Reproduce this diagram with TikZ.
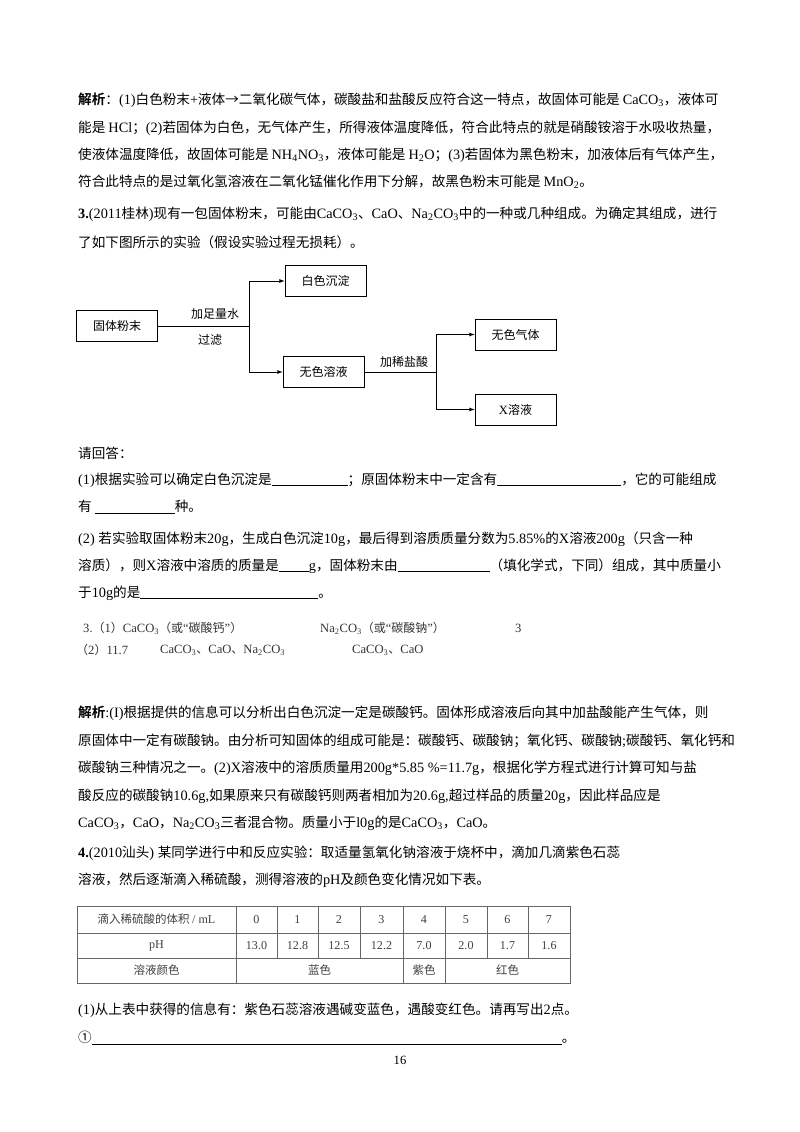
\documentclass[tikz,border=0pt]{standalone}
\usepackage{fontspec}
\setmainfont{Liberation Serif}[Scale=1.05]
\newfontfamily\cjkfam{Noto Sans CJK SC}[BoldFont={Noto Sans CJK SC Bold}]
\makeatletter
\XeTeXinterchartokenstate=1
\newXeTeXintercharclass\cjkclass
\count@="4E00
\loop\ifnum\count@<"A000 \XeTeXcharclass\count@=\cjkclass \advance\count@ by 1 \repeat
\count@="3000
\loop\ifnum\count@<"3040 \XeTeXcharclass\count@=\cjkclass \advance\count@ by 1 \repeat
\count@="FF00
\loop\ifnum\count@<"FFF0 \XeTeXcharclass\count@=\cjkclass \advance\count@ by 1 \repeat
\XeTeXcharclass"2192=\cjkclass
\XeTeXcharclass"2460=\cjkclass
\makeatother
\XeTeXinterchartoks 0 \cjkclass = {\cjkfam}
\XeTeXinterchartoks 4095 \cjkclass = {\cjkfam}
\XeTeXinterchartoks \cjkclass 0 = {\rmfamily}
\XeTeXinterchartoks 4095 0 = {\rmfamily}
\newcommand{\sbs}[1]{\textsubscript{#1}}
\newcommand{\blank}[1]{\underline{\hspace{#1pt}}}
\begin{document}
\begin{tikzpicture}[x=1pt,y=-1pt,
  txt/.style={anchor=west,inner sep=0pt,font=\fontsize{13.6}{15}\selectfont},
  ans/.style={anchor=west,inner sep=0pt,font=\fontsize{12}{14}\selectfont,text=black!80},
  boxnode/.style={draw,thick,minimum width=81pt,minimum height=31pt,inner sep=0pt,font=\fontsize{12}{14}\selectfont},
  lbl/.style={inner sep=0pt,font=\fontsize{12}{14}\selectfont},
  conn/.style={thick},
  arr/.style={thick,-latex},
  tcell/.style={inner sep=0pt,font=\fontsize{11.5}{13}\selectfont,text=black!75},
  tline/.style={draw=black!60}]
\useasboundingbox (0,0) rectangle (800,1132);
\fill[white] (0,0) rectangle (800,1132);
% paragraph 1
\node[txt] (l1) at (78,100) {\textbf{解析}：(1)白色粉末+液体→二氧化碳气体，碳酸盐和盐酸反应符合这一特点，故固体可能是 CaCO\sbs{3}，液体可};
\node[txt] (l2) at (78,128) {能是 HCl；(2)若固体为白色，无气体产生，所得液体温度降低，符合此特点的就是硝酸铵溶于水吸收热量，};
\node[txt] (l3) at (78,155) {使液体温度降低，故固体可能是 NH\sbs{4}NO\sbs{3}，液体可能是 H\sbs{2}O；(3)若固体为黑色粉末，加液体后有气体产生，};
\node[txt] (l4) at (78,182) {符合此特点的是过氧化氢溶液在二氧化锰催化作用下分解，故黑色粉末可能是 MnO\sbs{2}。};
\node[txt] (l5) at (78,214) {\textbf{3.}(2011桂林)现有一包固体粉末，可能由CaCO\sbs{3}、CaO、Na\sbs{2}CO\sbs{3}中的一种或几种组成。为确定其组成，进行};
\node[txt] (l6) at (78,242) {了如下图所示的实验（假设实验过程无损耗）。};
% diagram
\node[boxnode] (a) at (117,326) {固体粉末};
\node[boxnode] (b) at (325.5,281) {白色沉淀};
\node[boxnode] (c) at (323.5,372) {无色溶液};
\node[boxnode] (d) at (515.5,334.5) {无色气体};
\node[boxnode] (e) at (515.5,409.5) {X溶液};
\coordinate (j1) at (249,326);
\coordinate (j2) at (436,372);
\draw[conn] (a.east) -- (j1);
\draw[arr] (j1) |- (b.west);
\draw[arr] (j1) |- (c.west);
\draw[conn] (c.east) -- (j2);
\draw[arr] (j2) |- (d.west);
\draw[arr] (j2) |- (e.west);
\node[lbl] (la) at (215,314) {加足量水};
\node[lbl] (lb) at (210,340) {过滤};
\node[lbl] (lc) at (404,362) {加稀盐酸};
% questions
\node[txt] (q0) at (78,453) {请回答：};
\node[txt] (q1) at (78,480) {(1)根据实验可以确定白色沉淀是\blank{76}；原固体粉末中一定含有\blank{124}，它的可能组成};
\node[txt] (q2) at (78,507) {有 \blank{80}种。};
\node[txt] (q3) at (78,539) {(2) 若实验取固体粉末20g，生成白色沉淀10g，最后得到溶质质量分数为5.85\%的X溶液200g（只含一种};
\node[txt] (q4) at (78,566) {溶质），则X溶液中溶质的质量是\blank{30}g，固体粉末由\blank{92}（填化学式，下同）组成，其中质量小};
\node[txt] (q5) at (78,593) {于10g的是\blank{178}。};
% answers
\node[ans] (a1) at (83,628) {3.（1）CaCO\sbs{3}（或“碳酸钙”）};
\node[ans] (a2) at (320,628) {Na\sbs{2}CO\sbs{3}（或“碳酸钠”）};
\node[ans] (a3) at (515,628) {3};
\node[ans] (a4) at (76,650) {（2）11.7};
\node[ans] (a5) at (160,650) {CaCO\sbs{3}、CaO、Na\sbs{2}CO\sbs{3}};
\node[ans] (a6) at (352,650) {CaCO\sbs{3}、CaO};
% analysis
\node[txt] (p1) at (78,713) {\textbf{解析}:(I)根据提供的信息可以分析出白色沉淀一定是碳酸钙。固体形成溶液后向其中加盐酸能产生气体，则};
\node[txt] (p2) at (78,741) {原固体中一定有碳酸钠。由分析可知固体的组成可能是：碳酸钙、碳酸钠；氧化钙、碳酸钠;碳酸钙、氧化钙和};
\node[txt] (p3) at (78,768) {碳酸钠三种情况之一。(2)X溶液中的溶质质量用200g*5.85 \%=11.7g，根据化学方程式进行计算可知与盐};
\node[txt] (p4) at (78,796) {酸反应的碳酸钠10.6g,如果原来只有碳酸钙则两者相加为20.6g,超过样品的质量20g，因此样品应是};
\node[txt] (p5) at (78,823) {CaCO\sbs{3}，CaO，Na\sbs{2}CO\sbs{3}三者混合物。质量小于l0g的是CaCO\sbs{3}，CaO。};
\node[txt] (r1) at (78,853) {\textbf{4.}(2010汕头) 某同学进行中和反应实验：取适量氢氧化钠溶液于烧杯中，滴加几滴紫色石蕊};
\node[txt] (r2) at (78,880) {溶液，然后逐渐滴入稀硫酸，测得溶液的pH及颜色变化情况如下表。};
% table
\draw[tline] (77,906) rectangle (570,983);
\draw[tline] (77,933) -- (570,933);
\draw[tline] (77,958) -- (570,958);
\draw[tline] (236,906) -- (236,983);
\foreach \xx in {277,318,360,445,487,528} \draw[tline] (\xx,906) -- (\xx,958);
\draw[tline] (403,906) -- (403,983);
\draw[tline] (445,958) -- (445,983);
\node[tcell] (t0) at (156.5,919.5) {滴入稀硫酸的体积 / mL};
\node[tcell] (t1) at (156.5,945.5) {pH};
\node[tcell] (t2) at (156.5,970.5) {溶液颜色};
\foreach \cx/\v/\p in {256.5/0/13.0,297.5/1/12.8,339/2/12.5,381.5/3/12.2,424/4/7.0,466/5/2.0,507.5/6/1.7,549/7/1.6}{
  \node[tcell] at (\cx,919.5) {\v};
  \node[tcell] at (\cx,945.5) {\p};
}
\node[tcell] (t3) at (319.5,970.5) {蓝色};
\node[tcell] (t4) at (424,970.5) {紫色};
\node[tcell] (t5) at (507.5,970.5) {红色};
\node[txt] (s1) at (78,1010) {(1)从上表中获得的信息有：紫色石蕊溶液遇碱变蓝色，遇酸变红色。请再写出2点。};
\node[txt] (s2) at (78,1038) {①\blank{470}。};
\node[ans,anchor=center,text=black] (pg) at (400,1060) {16};
\end{tikzpicture}
\end{document}
